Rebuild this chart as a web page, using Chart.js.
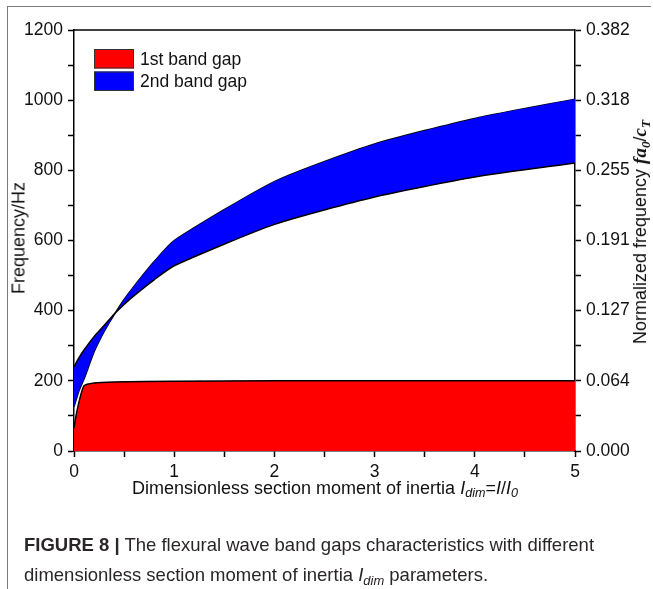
<!DOCTYPE html>
<html>
<head>
<meta charset="utf-8">
<script src="https://cdn.jsdelivr.net/npm/chart.js@4/dist/chart.umd.min.js"></script>
<style>
  html, body { margin: 0; padding: 0; background: #fff; }
  #wrap { position: relative; width: 653px; height: 589px; overflow: hidden; background: #fff; }
  #c { position: absolute; left: 0; top: 0; }
  .frameTop { position: absolute; left: 7px; top: 6px; width: 644px; height: 1px; background: #7a7a7a; }
  .frameLeft { position: absolute; left: 7px; top: 6px; width: 1px; height: 583px; background: #7a7a7a; }
  .t { position: absolute; font-family: "Liberation Sans", Arial, sans-serif; color: #111; white-space: nowrap; }
  #ytitle { left: 19px; top: 238px; font-size: 18px; transform: translate(-50%, -50%) rotate(-90deg); }
  #y2title { left: 640px; top: 232px; font-size: 18px; transform: translate(-50%, -50%) rotate(-90deg); }
  #xtitle { left: 325px; top: 488px; font-size: 18px; transform: translate(-50%, -50%); }
  .ser { font-family: "Liberation Serif", "Times New Roman", serif; font-weight: bold; font-style: italic; font-size: 19px; }
  sub { font-size: 70%; vertical-align: -0.3em; line-height: 0; }
  #caption { left: 24px; top: 530px; font-size: 18.5px; line-height: 30px; color: #2a2627; font-family: "Liberation Sans", Arial, sans-serif; }
</style>
</head>
<body>
<div id="wrap">
  <canvas id="c" width="653" height="589"></canvas>
  <div class="frameTop"></div>
  <div class="frameLeft"></div>
  <div id="ytitle" class="t">Frequency/Hz</div>
  <div id="y2title" class="t">Normalized frequency <span class="ser">fa<sub>0</sub></span>/<span class="ser">c<sub>T</sub></span></div>
  <div id="xtitle" class="t">Dimensionless section moment of inertia <i>I<sub>dim</sub></i>=<i>I</i>/<i>I<sub>0</sub></i></div>
  <div id="caption" class="t"><b>FIGURE 8 |</b> The flexural wave band gaps characteristics with different<br>dimensionless section moment of inertia <i>I<sub>dim</sub></i> parameters.</div>
</div>
<script>
// ---- data ----
const seriesNames = ['1st band gap', '2nd band gap'];

// 1st band gap upper edge (Hz), lower edge is 0
const gap1X = [0, 0.02, 0.05, 0.1, 0.2, 0.4, 1, 2, 3, 4, 5];
const gap1Upper = [65, 100, 140, 186, 194, 197, 199, 200, 200, 200, 200];

// 2nd band gap: two boundary curves that cross near Idim = 0.42
const gap2X = [0, 0.05, 0.1, 0.2, 0.3, 0.4, 0.5, 0.6, 0.8, 1, 2, 3, 4, 5];
const gap2CurveA = [240, 266, 288, 326, 358, 390, 418, 443, 488, 528, 646, 724, 781, 821];
const gap2CurveB = [126, 172, 205, 282, 340, 388, 432, 470, 540, 600, 768, 875, 948, 1003];

// tick labels
const xTickLabels = ['0', '1', '2', '3', '4', '5'];
const yLeftTickLabels = ['0', '200', '400', '600', '800', '1000', '1200'];
const yRightTickLabels = ['0.000', '0.064', '0.127', '0.191', '0.255', '0.318', '0.382'];

// ---- build chart ----
function pts(xs, ys) { return xs.map((x, i) => ({ x: x, y: ys[i] })); }

const legendPlugin = {
  id: 'insideLegend',
  afterDraw(chart) {
    const ctx = chart.ctx;
    const items = [
      { label: seriesNames[0], color: '#ff0000' },
      { label: seriesNames[1], color: '#0000ff' }
    ];
    ctx.save();
    ctx.font = '17.5px "Liberation Sans", Arial, sans-serif';
    ctx.textBaseline = 'middle';
    items.forEach((it, i) => {
      const x = 94, y = 49 + i * 22.5, w = 40, h = 19.5;
      ctx.fillStyle = it.color;
      ctx.fillRect(x, y, w, h);
      ctx.strokeStyle = '#333';
      ctx.lineWidth = 1;
      ctx.strokeRect(x + 0.5, y + 0.5, w - 1, h - 1);
      ctx.fillStyle = '#111';
      ctx.fillText(it.label, 140, y + h / 2 + 1);
    });
    ctx.restore();
  }
};

const framePlugin = {
  id: 'frameTop',
  afterDraw(chart) {
    const a = chart.chartArea, ctx = chart.ctx;
    ctx.save();
    ctx.strokeStyle = '#000';
    ctx.lineWidth = 1.5;
    ctx.beginPath();
    ctx.moveTo(a.left, a.top);
    ctx.lineTo(a.right, a.top);
    ctx.stroke();
    ctx.restore();
  }
};

const tickFont = { family: '"Liberation Sans", Arial, sans-serif', size: 17.5 };

new Chart(document.getElementById('c'), {
  type: 'scatter',
  data: {
    datasets: [
      {
        label: seriesNames[1] + ' A',
        data: pts(gap2X, gap2CurveA),
        showLine: true, fill: '+1',
        backgroundColor: '#0000ff', borderColor: '#000', borderWidth: 1.5,
        pointRadius: 0, tension: 0.2, yAxisID: 'y'
      },
      {
        label: seriesNames[1] + ' B',
        data: pts(gap2X, gap2CurveB),
        showLine: true, fill: false,
        backgroundColor: '#0000ff', borderColor: '#000', borderWidth: 1.5,
        pointRadius: 0, tension: 0.2, yAxisID: 'y'
      },
      {
        label: seriesNames[0],
        data: pts(gap1X, gap1Upper),
        showLine: true, fill: 'origin',
        backgroundColor: '#ff0000', borderColor: '#000', borderWidth: 1.5,
        pointRadius: 0, tension: 0.2, yAxisID: 'y'
      }
    ]
  },
  options: {
    responsive: false,
    animation: false,
    layout: { padding: { top: 30, left: 0, right: 0, bottom: 0 } },
    plugins: { legend: { display: false }, tooltip: { enabled: false }, filler: { propagate: false } },
    scales: {
      x: {
        type: 'linear', min: 0, max: 5,
        afterFit(s) { s.height = 589 - 451; },
        border: { display: true, color: '#000', width: 1.5 },
        grid: { drawOnChartArea: false, drawTicks: true, tickLength: 6, color: '#000', tickWidth: 1.5 },
        ticks: {
          stepSize: 0.5, color: '#111', font: tickFont, padding: 5, maxRotation: 0, autoSkip: false,
          callback: (v) => (Number.isInteger(v) ? xTickLabels[v] : '')
        }
      },
      y: {
        position: 'left', min: 0, max: 1200,
        afterFit(s) { s.width = 74; },
        border: { display: true, color: '#000', width: 1.5 },
        grid: { drawOnChartArea: false, drawTicks: true, tickLength: 6, color: '#000', tickWidth: 1.5 },
        ticks: {
          stepSize: 100, color: '#111', font: tickFont, padding: 5, autoSkip: false,
          callback: (v) => (v % 200 === 0 ? yLeftTickLabels[v / 200] : '')
        }
      },
      y2: {
        position: 'right', min: 0, max: 1200,
        afterFit(s) { s.width = 653 - 575; },
        border: { display: true, color: '#000', width: 1.5 },
        grid: { drawOnChartArea: false, drawTicks: true, tickLength: 6, color: '#000', tickWidth: 1.5 },
        ticks: {
          stepSize: 100, color: '#111', font: tickFont, padding: 5, autoSkip: false,
          callback: (v) => (v % 200 === 0 ? yRightTickLabels[v / 200] : '')
        }
      }
    }
  },
  plugins: [legendPlugin, framePlugin]
});
</script>
</body>
</html>
